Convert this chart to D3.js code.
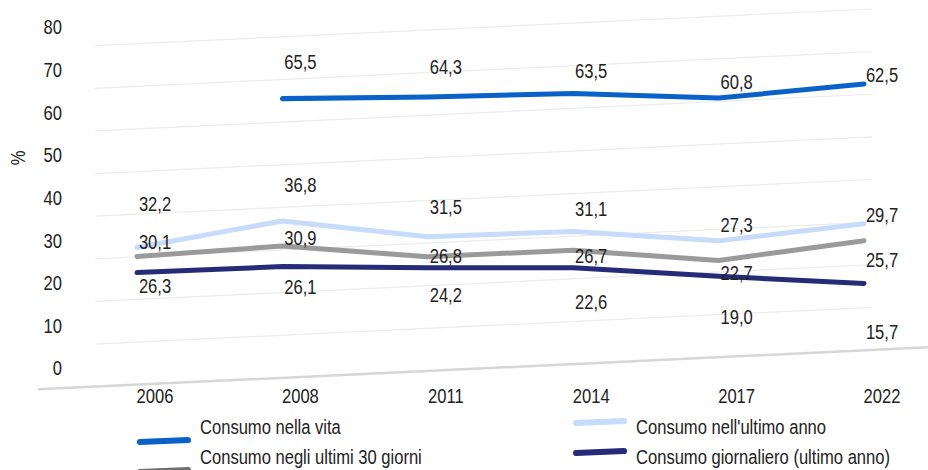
<!DOCTYPE html>
<html><head><meta charset="utf-8">
<script src="https://cdn.jsdelivr.net/npm/d3@7"></script>
<style>
html,body{margin:0;padding:0;background:#fff;}
text{font-family:"Liberation Sans Narrow","Arial Narrow","Liberation Sans",Arial,sans-serif;fill:#222;}
</style></head><body>
<svg id="chart" width="928" height="470"></svg>
<script>
const years = ["2006","2008","2011","2014","2017","2022"];
const yTicks = [0,10,20,30,40,50,60,70,80];
const vita = [null,65.5,64.3,63.5,60.8,62.5];
const ultimoAnno = [32.2,36.8,31.5,31.1,27.3,29.7];
const ultimi30 = [30.1,30.9,26.8,26.7,22.7,25.7];
const giornaliero = [26.3,26.1,24.2,22.6,19.0,15.7];
const seriesNames = ["Consumo nella vita","Consumo nell'ultimo anno","Consumo negli ultimi 30 giorni","Consumo giornaliero (ultimo anno)"];

const series = [
  {name:seriesNames[0], values:vita, color:"#0a62c9", dy:-27},
  {name:seriesNames[1], values:ultimoAnno, color:"#c6dcfa", dy:-27},
  {name:seriesNames[2], values:ultimi30, color:"#9a9a9a", dy:1.5},
  {name:seriesNames[3], values:giornaliero, color:"#262b78", dy:30}
];

const svg = d3.select("#chart");
const x = d3.scalePoint().domain(years).range([155,882]);
const y = d3.scaleLinear().domain([0,80]).range([369,28]);
const fmt = v => d3.format(".1f")(v).replace(".", ",");
const FS = 19.5;
const SX = 0.85; // condensed look

function label(g, tx, ty, str, anchor, rot){
  return g.append("text")
    .attr("transform", `translate(${tx},${ty})` + (rot ? ` rotate(${rot})` : "") + ` scale(${SX},1)`)
    .attr("text-anchor", anchor).attr("dominant-baseline","central")
    .attr("font-size", FS).text(str);
}

// plot area (skewed as in the reference)
const plot = svg.append("g").attr("transform","matrix(1,-0.0472,0,1,-18,23)");
plot.append("g").selectAll("line").data(yTicks.filter(t=>t>0)).join("line")
  .attr("x1",113).attr("x2",890)
  .attr("y1",d=>y(d)).attr("y2",d=>y(d))
  .attr("stroke","#ececec").attr("stroke-width",1.2);
plot.append("line").attr("x1",56).attr("x2",960).attr("y1",y(0)).attr("y2",y(0))
  .attr("stroke","#d6d6d6").attr("stroke-width",2.5);

const line = d3.line().defined(d=>d.v!=null).x(d=>x(d.year)).y(d=>y(d.v));
[1,2,3,0].forEach(i=>{
  const s = series[i];
  plot.append("path")
    .datum(years.map((yr,j)=>({year:yr,v:s.values[j]})))
    .attr("d",line).attr("fill","none").attr("stroke",s.color)
    .attr("stroke-width",5).attr("stroke-linecap","round").attr("stroke-linejoin","round");
});

// data labels
const lab = svg.append("g");
series.forEach(s=>{
  years.forEach((yr,j)=>{
    const v = s.values[j];
    if (v == null) return;
    label(lab, x(yr), y(v)+s.dy, fmt(v), "middle");
  });
});

// y axis labels
const ya = svg.append("g");
yTicks.forEach(t=>label(ya, 62, y(t), String(t), "end"));
label(ya, 19, 158, "%", "middle", -90);

// x axis labels
const xa = svg.append("g");
years.forEach(yr=>label(xa, x(yr), 397, yr, "middle"));

// legend
const legend = [
  {s:series[0], sx:140, sy:441, tx:200, ty:428},
  {s:series[2], sx:140, sy:471, tx:200, ty:458, color:"#6e6e6e"},
  {s:series[1], sx:576, sy:422, tx:636, ty:428},
  {s:series[3], sx:576, sy:452, tx:636, ty:458}
];
const lg = svg.append("g");
legend.forEach(l=>{
  lg.append("line").attr("x1",l.sx).attr("x2",l.sx+48).attr("y1",l.sy+1).attr("y2",l.sy-1)
    .attr("stroke",l.color||l.s.color).attr("stroke-width",6).attr("stroke-linecap","round");
  label(lg, l.tx, l.ty, l.s.name, "start");
});
</script>
</body></html>
